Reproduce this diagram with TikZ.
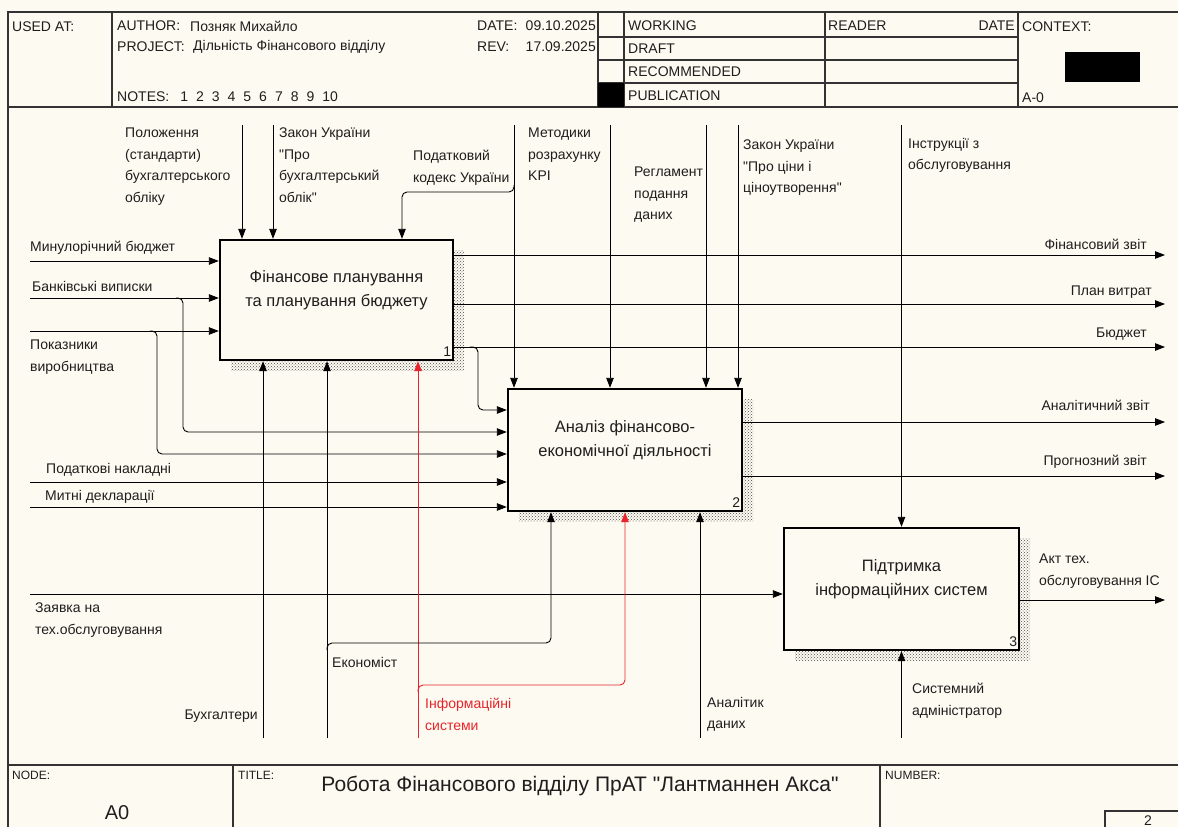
\documentclass[tikz,border=0pt]{standalone}
\usepackage{fontspec}
\setmainfont{Liberation Sans}
\usetikzlibrary{arrows.meta,patterns,calc}
\definecolor{cPaper}{HTML}{FDFAF1}
\definecolor{cInk}{HTML}{1E1E1E}
\definecolor{cRed}{HTML}{E8242A}
\newcommand{\qt}{\textquotedbl}

\begin{document}
\begin{tikzpicture}[x=1pt,y=-1pt,
  every node/.style={text=cInk, inner sep=0pt},
  lbl/.style={font=\fontsize{14}{21.5}\selectfont, align=left},
  hdr/.style={font=\fontsize{14}{17}\selectfont, anchor=west},
  small/.style={font=\fontsize{12}{14}\selectfont, anchor=west},
  procbox/.style={draw=black, line width=2.4pt, fill=cPaper, minimum width=233pt, minimum height=120pt,
    preaction={draw=none, pattern=crosshatch dots, pattern color=black!70, transform canvas={xshift=11pt,yshift=-10pt}}},
  proctext/.style={font=\fontsize{16.5}{24}\selectfont, align=center},
  procnum/.style={font=\fontsize{14}{16}\selectfont},
  arr/.style={-{Triangle[length=10pt,width=7.5pt]}, line width=0.9pt},
  forkline/.style={arr, rounded corners=5pt},
  frame/.style={line width=1.1pt, draw=black!80},
]

\useasboundingbox (0,0) rectangle (1178,827);
\clip (0,0) rectangle (1178,827);
\fill[cPaper] (0,0) rectangle (1178,827);

% frame and header
\draw[frame] (8,827) -- (8,12) -- (1178,12);
\draw[frame] (8,107) -- (1178,107);
\draw[frame] (8,765) -- (1178,765);
\foreach \x in {112,598,624,825,1018} \draw[frame] (\x,12) -- (\x,107);
\foreach \y in {37,60,83} \draw[frame] (598,\y) -- (1018,\y);
\fill (598,83) rectangle (624,107);
\fill (1065,52) rectangle (1140,82);
\foreach \x in {233,880} \draw[frame] (\x,765) -- (\x,827);
\draw[frame] (1105,840) -- (1105,811) -- (1190,811);

\node[hdr] (usedat) at (12,27) {USED AT:};
\node[hdr] (author) at (117,26) {AUTHOR:};
\node[hdr] (authorname) at (190,26) {Позняк Михайло};
\node[hdr] (project) at (117,47) {PROJECT:};
\node[hdr] (projectname) at (193,47) {Дільність Фінансового відділу};
\node[hdr] (notes) at (117,97) {NOTES:\hspace{11pt}1\hspace{8pt}2\hspace{8pt}3\hspace{8pt}4\hspace{8pt}5\hspace{8pt}6\hspace{8pt}7\hspace{8pt}8\hspace{8pt}9\hspace{8pt}10};
\node[hdr] (date) at (477,26) {DATE:};
\node[hdr, anchor=east] (dateval) at (596,26) {09.10.2025};
\node[hdr] (rev) at (477,47) {REV:};
\node[hdr, anchor=east] (revval) at (596,47) {17.09.2025};
\node[hdr] (working) at (628,26) {WORKING};
\node[hdr] (draft) at (628,49) {DRAFT};
\node[hdr] (recommended) at (628,72) {RECOMMENDED};
\node[hdr] (publication) at (628,96) {PUBLICATION};
\node[hdr] (reader) at (828,26) {READER};
\node[hdr, anchor=east] (readerdate) at (1015,26) {DATE};
\node[hdr] (context) at (1022,27) {CONTEXT:};
\node[hdr] (ctxnode) at (1022,98) {A-0};

% footer
\node[small] (nodelbl) at (12,775) {NODE:};
\node[small] (titlelbl) at (238,775) {TITLE:};
\node[small] (numberlbl) at (885,775) {NUMBER:};
\node[font=\fontsize{21}{25}\selectfont] (title) at (580,786) {Робота Фінансового відділу ПрАТ \qt Лантманнен Акса\qt};
\node[font=\fontsize{20}{24}\selectfont] (nodeid) at (117,813) {A0};
\node[procnum, anchor=base] (pagenum) at (1148,825) {2};

% activities
\node[procbox] (b1) at (336.5,300) {};
\node[proctext] (b1text) at ([yshift=10pt]b1.center) {Фінансове планування\\та планування бюджету};
\node[procnum] (b1num) at ([xshift=-7pt,yshift=10pt]b1.south east) {1};

\node[procbox, minimum width=234pt, minimum height=122pt] (b2) at (625,450) {};
\node[proctext] (b2text) at ([yshift=10pt]b2.center) {Аналіз фінансово-\\економічної діяльності};
\node[procnum] (b2num) at ([xshift=-7pt,yshift=10pt]b2.south east) {2};

\node[procbox, minimum width=235pt, minimum height=122pt] (b3) at (901.5,589) {};
\node[proctext] (b3text) at ([yshift=10pt]b3.center) {Підтримка\\інформаційних систем};
\node[procnum] (b3num) at ([xshift=-7pt,yshift=10pt]b3.south east) {3};

% inputs
\coordinate (inBudget) at (30,261);
\coordinate (inBank) at (30,298);
\coordinate (inProd) at (30,331);
\coordinate (inTax) at (30,482);
\coordinate (inCustoms) at (30,507);
\coordinate (inRequest) at (30,594);
\draw[arr] (inBudget) -- (inBudget -| b1.west);
\draw[arr] (inBank) -- (inBank -| b1.west);
\draw[arr] (inProd) -- (inProd -| b1.west);
\draw[arr] (inTax) -- (inTax -| b2.west);
\draw[arr] (inCustoms) -- (inCustoms -| b2.west);
\draw[arr] (inRequest) -- (inRequest -| b3.west);
\coordinate (bankFork) at (176,298);
\coordinate (prodFork) at (150,331);
\draw[forkline] (bankFork) -- ++(7,0) |- ($(b2.west)+(0,-18)$);
\draw[forkline] (prodFork) -- ++(7,0) |- ($(b2.west)+(0,4)$);

% outputs
\coordinate (outFin) at (1165,255);
\coordinate (outPlan) at (1165,304);
\coordinate (outBudget) at (1165,347);
\coordinate (outAnal) at (1165,422);
\coordinate (outForecast) at (1165,476);
\coordinate (outAct) at (1165,600);
\draw[arr] (outFin -| b1.east) -- (outFin);
\draw[arr] (outPlan -| b1.east) -- (outPlan);
\draw[arr] (outBudget -| b1.east) -- (outBudget);
\draw[arr] (outAnal -| b2.east) -- (outAnal);
\draw[arr] (outForecast -| b2.east) -- (outForecast);
\draw[arr] (outAct -| b3.east) -- (outAct);
\coordinate (budgetFork) at (470,347);
\draw[forkline] (budgetFork) -- ++(8,0) |- ($(b2.west)+(0,-40)$);

% controls
\coordinate (ctlStd) at (242,125);
\coordinate (ctlLaw) at (273,125);
\coordinate (ctlTax) at (514,125);
\coordinate (ctlKpi) at (610,125);
\coordinate (ctlReg) at (706,125);
\coordinate (ctlPrice) at (738,125);
\coordinate (ctlInstr) at (901.5,125);
\draw[arr] (ctlStd) -- (ctlStd |- b1.north);
\draw[arr] (ctlLaw) -- (ctlLaw |- b1.north);
\draw[arr] (ctlTax) -- (ctlTax |- b2.north);
\draw[arr] (ctlKpi) -- (ctlKpi |- b2.north);
\draw[arr] (ctlReg) -- (ctlReg |- b2.north);
\draw[arr] (ctlPrice) -- (ctlPrice |- b2.north);
\draw[arr] (ctlInstr) -- (b3.north);
\coordinate (taxFork) at (514,185);
\draw[forkline] (taxFork) -- ++(0,7) -| ([xshift=65.5pt]b1.north);

% mechanisms
\coordinate (mchAcc) at (263,738);
\coordinate (mchEcon) at (327,738);
\coordinate (mchIS) at (418,738);
\coordinate (mchAnalyst) at (700,738);
\coordinate (mchAdmin) at (901.5,738);
\draw[arr] (mchAcc) -- (mchAcc |- b1.south);
\draw[arr] (mchEcon) -- (mchEcon |- b1.south);
\draw[arr, cRed] (mchIS) -- (mchIS |- b1.south);
\draw[arr] (mchAnalyst) -- (mchAnalyst |- b2.south);
\draw[arr] (mchAdmin) -- (b3.south);
\coordinate (econFork) at (327,650);
\coordinate (isFork) at (418,692);
\draw[forkline] (econFork) -- ++(0,-7) -| ([xshift=-74pt]b2.south);
\draw[forkline, cRed] (isFork) -- ++(0,-7) -| (b2.south);

% labels
\node[lbl, anchor=north west] (lStd) at (125,128) {Положення\\(стандарти)\\бухгалтерського\\обліку};
\node[lbl, anchor=north west] (lLaw) at (279,128) {Закон України\\\qt Про\\бухгалтерський\\облік\qt};
\node[lbl, anchor=north west] (lTax) at (413,150) {Податковий\\кодекс України};
\node[lbl, anchor=north west] (lKpi) at (528,128) {Методики\\розрахунку\\KPI};
\node[lbl, anchor=north west] (lReg) at (634,167) {Регламент\\подання\\даних};
\node[lbl, anchor=north west] (lPrice) at (743,140) {Закон України\\\qt Про ціни і\\ціноутворення\qt};
\node[lbl, anchor=north west] (lInstr) at (908,138) {Інструкції з\\обслуговування};

\node[lbl, anchor=west] (lBudget) at (30,248) {Минулорічний бюджет};
\node[lbl, anchor=west] (lBank) at (32,286) {Банківські виписки};
\node[lbl, anchor=north west] (lProd) at (30,340) {Показники\\виробництва};
\node[lbl, anchor=west] (lTaxInv) at (46,470) {Податкові накладні};
\node[lbl, anchor=west] (lCustoms) at (45,497) {Митні декларації};
\node[lbl, anchor=north west] (lRequest) at (35,603) {Заявка на\\тех.обслуговування};

\node[lbl, anchor=east] (lFin) at (1147,244) {Фінансовий звіт};
\node[lbl, anchor=east] (lPlan) at (1152,292) {План витрат};
\node[lbl, anchor=east] (lBud) at (1147,334) {Бюджет};
\node[lbl, anchor=east] (lAnal) at (1150,405) {Аналітичний звіт};
\node[lbl, anchor=east] (lForecast) at (1147,462) {Прогнозний звіт};
\node[lbl, anchor=north west] (lAct) at (1039,554) {Акт тех.\\обслуговування ІС};

\node[lbl, anchor=east] (lAcc) at (258,716) {Бухгалтери};
\node[lbl, anchor=west] (lEcon) at (332,662) {Економіст};
\node[lbl, anchor=north west, text=cRed] (lIS) at (425,698) {Інформаційні\\системи};
\node[lbl, anchor=north west] (lAnalyst) at (707,697) {Аналітик\\даних};
\node[lbl, anchor=north west] (lAdmin) at (912,683) {Системний\\адміністратор};

\end{tikzpicture}
\end{document}
